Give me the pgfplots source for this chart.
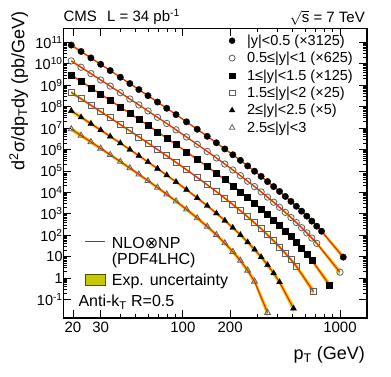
\documentclass[border=0pt]{standalone}
\usepackage{pgfplots}
\pgfplotsset{compat=1.18}
\usepackage{pgfplotstable}
\usepgfplotslibrary{fillbetween}
\usepackage{fontspec}
\setmainfont{Liberation Sans}
\newfontfamily\dejavu{DejaVu Sans}

\definecolor{band}{RGB}{214,214,0}
\definecolor{bandleg}{RGB}{200,200,0}
\definecolor{bandedge}{RGB}{80,80,0}
\definecolor{thred}{RGB}{255,25,25}
\definecolor{opengray}{RGB}{95,95,95}

\pgfplotstableread{
x y e
19.5 7.41e10 0.15
22.5 3.74e10 0.13
26 1.87e10 0.12
30 9.40e9 0.10
34.5 4.80e9 0.10
40 2.34e9 0.10
46 1.19e9 0.10
52.5 6.25e8 0.10
60 3.24e8 0.10
69 1.63e8 0.10
79 8.36e7 0.10
90.5 4.24e7 0.10
105.5 1.95e7 0.10
123.5 8.77e6 0.10
143 4.12e6 0.10
163.5 2.05e6 0.10
185 1.06e6 0.10
208 5.68e5 0.10
232.5 3.09e5 0.10
258.5 1.71e5 0.10
286 9.66e4 0.10
315 5.55e4 0.11
346 3.18e4 0.11
378.5 1.86e4 0.12
412.5 1.10e4 0.12
449 6.44e3 0.13
487.5 3.79e3 0.14
527.5 2.24e3 0.15
570 1.32e3 0.16
615 776 0.17
662 455 0.18
711.5 264 0.19
763.5 153 0.20
1050 9.5 0.35
}\sA

\pgfplotstableread{
x y e
19.5 1.35e10 0.15
22.5 6.85e9 0.13
26 3.46e9 0.12
30 1.75e9 0.10
34.5 9.02e8 0.10
40 4.44e8 0.10
46 2.26e8 0.10
52.5 1.20e8 0.10
60 6.25e7 0.10
69 3.16e7 0.10
79 1.63e7 0.10
90.5 8.28e6 0.10
105.5 3.84e6 0.10
123.5 1.73e6 0.10
143 8.11e5 0.10
163.5 4.03e5 0.10
185 2.09e5 0.10
208 1.11e5 0.10
232.5 6.01e4 0.11
258.5 3.31e4 0.11
286 1.85e4 0.12
315 1.05e4 0.12
346 6.00e3 0.13
378.5 3.46e3 0.13
412.5 2.01e3 0.14
449 1.16e3 0.15
487.5 671 0.16
527.5 390 0.17
570 225 0.18
615 129 0.19
662 73.8 0.20
711.5 41.8 0.21
1000 1.89 0.40
}\sB

\pgfplotstableread{
x y e
19.5 2.95e9 0.18
22.5 1.50e9 0.15
26 7.52e8 0.13
30 3.80e8 0.12
34.5 1.95e8 0.11
40 9.53e7 0.11
46 4.84e7 0.11
52.5 2.55e7 0.11
60 1.32e7 0.11
69 6.64e6 0.11
79 3.38e6 0.11
90.5 1.70e6 0.11
105.5 7.78e5 0.11
123.5 3.44e5 0.11
143 1.58e5 0.11
163.5 7.73e4 0.11
185 3.92e4 0.12
208 2.03e4 0.12
232.5 1.07e4 0.12
258.5 5.73e3 0.13
286 3.11e3 0.13
315 1.70e3 0.14
346 933 0.15
378.5 515 0.16
412.5 285 0.17
449 157 0.18
487.5 85.7 0.19
527.5 46.6 0.20
570 24.9 0.22
615 13.1 0.24
662 6.81 0.26
858 0.475 0.45
}\sC

\pgfplotstableread{
x y e
19.5 4.57e8 0.22
22.5 2.31e8 0.18
26 1.16e8 0.16
30 5.85e7 0.14
34.5 2.99e7 0.13
40 1.46e7 0.13
46 7.38e6 0.13
52.5 3.86e6 0.13
60 2.00e6 0.13
69 9.95e5 0.13
79 5.04e5 0.13
90.5 2.52e5 0.13
105.5 1.14e5 0.13
123.5 4.95e4 0.13
143 2.25e4 0.14
163.5 1.08e4 0.14
185 5.35e3 0.15
208 2.70e3 0.15
232.5 1.39e3 0.16
258.5 723 0.17
286 378 0.18
315 200 0.19
346 104 0.20
378.5 54.7 0.22
412.5 28.5 0.24
449 14.5 0.26
487.5 7.23 0.28
527.5 3.54 0.30
680 0.232 0.50
}\sD

\pgfplotstableread{
x y e
19.5 6.31e7 0.25
22.5 3.19e7 0.22
26 1.60e7 0.20
30 8.02e6 0.18
34.5 4.07e6 0.17
40 1.97e6 0.16
46 9.91e5 0.16
52.5 5.12e5 0.16
60 2.61e5 0.16
69 1.28e5 0.16
79 6.31e4 0.16
90.5 3.07e4 0.16
105.5 1.33e4 0.17
123.5 5.51e3 0.17
143 2.36e3 0.18
163.5 1.05e3 0.19
185 482 0.20
208 223 0.22
232.5 103 0.24
258.5 47.2 0.26
286 21.5 0.28
315 9.57 0.30
346 4.08 0.33
378.5 1.68 0.36
412.5 0.652 0.40
506 0.0387 0.60
}\sE

\pgfplotstableread{
x y e
19.5 8.91e6 0.28
22.5 4.50e6 0.25
26 2.24e6 0.23
30 1.12e6 0.21
34.5 5.65e5 0.20
40 2.72e5 0.20
46 1.35e5 0.20
52.5 6.92e4 0.20
60 3.48e4 0.20
69 1.68e4 0.20
79 8.11e3 0.20
90.5 3.85e3 0.21
105.5 1.61e3 0.22
123.5 632 0.23
143 253 0.24
163.5 104 0.26
185 42.8 0.28
208 17.1 0.30
232.5 6.52 0.33
258.5 2.28 0.37
286 0.700 0.42
346 0.0243 0.70
}\sF

\begin{document}
\begin{tikzpicture}
\begin{axis}[
  scale only axis, width=303.7pt, height=289.7pt,
  xmode=log, ymode=log,
  xmin=17.35, xmax=1486, ymin=1.375e-2, ymax=4.5e11,
  xtick={20,30,100,200,1000}, xticklabels={20,30,100,200,1000},
  minor xtick={40,50,60,70,80,90,300,400,500,600,700,800,900},
  ytickten={-1,0,...,11},
  yticklabel={\pgfmathtruncatemacro\ex{round(\tick/2.302585093)}\ifnum\ex=0 1\else\ifnum\ex=1 10\else 10\textsuperscript{\ex}\fi\fi},
  tick align=inside,
  major tick length=8pt, minor tick length=4pt,
  axis line style={line width=1.1pt},
  every tick/.style={black, line width=0.8pt},
  xticklabel style={font=\fontsize{15}{15}\selectfont},
  yticklabel style={font=\fontsize{14.5}{14.5}\selectfont, inner xsep=0.5pt},
  /pgf/number format/assume math mode=true,
  legend style={draw=none, fill=none, at={(0.5407,0.9803)}, anchor=north west,
    font=\fontsize{14.5}{17}\selectfont, inner sep=0pt, row sep=4.4pt,
    nodes={inner sep=0.5pt}},
  legend cell align=left,
  legend image code/.code={\path (0pt,-4pt) (18pt,4pt); \draw[#1] plot coordinates {(4pt,0pt)};},
]
% bands
\addplot[draw=none, name path=u1, forget plot] table[x=x, y expr=\thisrow{y}*(1+\thisrow{e})]{\sA};
\addplot[draw=none, name path=l1, forget plot] table[x=x, y expr=\thisrow{y}/(1+\thisrow{e})]{\sA};
\addplot[band, draw=none, forget plot] fill between[of=u1 and l1];
\addplot[draw=none, name path=u2, forget plot] table[x=x, y expr=\thisrow{y}*(1+\thisrow{e})]{\sB};
\addplot[draw=none, name path=l2, forget plot] table[x=x, y expr=\thisrow{y}/(1+\thisrow{e})]{\sB};
\addplot[band, draw=none, forget plot] fill between[of=u2 and l2];
\addplot[draw=none, name path=u3, forget plot] table[x=x, y expr=\thisrow{y}*(1+\thisrow{e})]{\sC};
\addplot[draw=none, name path=l3, forget plot] table[x=x, y expr=\thisrow{y}/(1+\thisrow{e})]{\sC};
\addplot[band, draw=none, forget plot] fill between[of=u3 and l3];
\addplot[draw=none, name path=u4, forget plot] table[x=x, y expr=\thisrow{y}*(1+\thisrow{e})]{\sD};
\addplot[draw=none, name path=l4, forget plot] table[x=x, y expr=\thisrow{y}/(1+\thisrow{e})]{\sD};
\addplot[band, draw=none, forget plot] fill between[of=u4 and l4];
\addplot[draw=none, name path=u5, forget plot] table[x=x, y expr=\thisrow{y}*(1+\thisrow{e})]{\sE};
\addplot[draw=none, name path=l5, forget plot] table[x=x, y expr=\thisrow{y}/(1+\thisrow{e})]{\sE};
\addplot[band, draw=none, forget plot] fill between[of=u5 and l5];
\addplot[draw=none, name path=u6, forget plot] table[x=x, y expr=\thisrow{y}*(1+\thisrow{e})]{\sF};
\addplot[draw=none, name path=l6, forget plot] table[x=x, y expr=\thisrow{y}/(1+\thisrow{e})]{\sF};
\addplot[band, draw=none, forget plot] fill between[of=u6 and l6];
% theory lines
\addplot[thred, line width=1.1pt, forget plot] table[x=x, y=y]{\sA};
\addplot[thred, line width=1.1pt, forget plot] table[x=x, y=y]{\sB};
\addplot[thred, line width=1.1pt, forget plot] table[x=x, y=y]{\sC};
\addplot[thred, line width=1.1pt, forget plot] table[x=x, y=y]{\sD};
\addplot[thred, line width=1.1pt, forget plot] table[x=x, y=y]{\sE};
\addplot[thred, line width=1.1pt, forget plot] table[x=x, y=y]{\sF};
% data markers
\addplot[only marks, mark=*, mark size=3.2pt, black, forget plot] table[x=x, y=y]{\sA};
\addplot[only marks, mark=o, mark size=3.2pt, opengray, line width=0.8pt, forget plot] table[x=x, y=y]{\sB};
\addplot[only marks, mark=square*, mark size=3pt, black, forget plot] table[x=x, y=y]{\sC};
\addplot[only marks, mark=square, mark size=3pt, opengray, line width=0.8pt, forget plot] table[x=x, y=y]{\sD};
\addplot[only marks, mark=triangle*, mark size=3.4pt, black, forget plot] table[x=x, y=y]{\sE};
\addplot[only marks, mark=triangle, mark size=3.4pt, opengray, line width=0.8pt, forget plot] table[x=x, y=y]{\sF};
% lower-left legend sample line
\draw[red, line width=1.4pt] (axis description cs:0.0715,0.2634) -- (axis description cs:0.1373,0.2634);
% legend
\addlegendimage{only marks, mark=*, mark size=3pt, black}
\addlegendentry{|y|<0.5 (×3125)}
\addlegendimage{only marks, mark=o, mark size=3pt, opengray, line width=0.8pt}
\addlegendentry{0.5≤|y|<1 (×625)}
\addlegendimage{only marks, mark=square*, mark size=2.8pt, black}
\addlegendentry{1≤|y|<1.5 (×125)}
\addlegendimage{only marks, mark=square, mark size=2.8pt, opengray, line width=0.8pt}
\addlegendentry{1.5≤|y|<2 (×25)}
\addlegendimage{only marks, mark=triangle*, mark size=3.2pt, black}
\addlegendentry{2≤|y|<2.5 (×5)}
\addlegendimage{only marks, mark=triangle, mark size=3.2pt, opengray, line width=0.8pt}
\addlegendentry{2.5≤|y|<3}
\end{axis}
% titles
\node[anchor=base west, font=\fontsize{15}{15}\selectfont, inner sep=0pt] at ([yshift=6.6pt]current axis.north west) {CMS};
\node[anchor=base west, font=\fontsize{15}{15}\selectfont, inner sep=0pt] at ([shift={(43.7pt,6.6pt)}]current axis.north west) {L = 34 pb\textsuperscript{-1}};
\node[anchor=base east, font=\fontsize{15}{15}\selectfont, inner sep=0pt] at ([shift={(-2pt,5.6pt)}]current axis.north east) {$\sqrt{\mbox{s}}$ = 7 TeV};
% axis labels
\node[rotate=90, anchor=base east, font=\fontsize{18}{18}\selectfont, inner sep=0pt] at ([shift={(-39pt,17pt)}]current axis.north west) {d\textsuperscript{2}σ/dp\textsubscript{T}dy (pb/GeV)};
\node[anchor=base east, font=\fontsize{18}{18}\selectfont, inner sep=0pt] at ([shift={(-2pt,-42pt)}]current axis.south east) {p\textsubscript{T} (GeV)};
% lower-left legend texts
\node[anchor=base west, font=\fontsize{16}{16}\selectfont, inner sep=0pt] at ([shift={(48.4pt,-220pt)}]current axis.north west) {NLO{\dejavu ⊗}NP};
\node[anchor=base west, font=\fontsize{16}{16}\selectfont, inner sep=0pt] at ([shift={(48.4pt,-236.7pt)}]current axis.north west) {(PDF4LHC)};
\draw[fill=bandleg, draw=bandedge, line width=0.8pt] ([shift={(21.7pt,-245.7pt)}]current axis.north west) rectangle ([shift={(41.7pt,-257pt)}]current axis.north west);
\node[anchor=base west, font=\fontsize{16}{16}\selectfont, inner sep=0pt] at ([shift={(48.4pt,-257.7pt)}]current axis.north west) {Exp. uncertainty};
\node[anchor=base west, font=\fontsize{16}{16}\selectfont, inner sep=0pt] at ([shift={(15pt,-278.4pt)}]current axis.north west) {Anti-k\textsubscript{T} R=0.5};
% bounding box
\pgfresetboundingbox
\path ([shift={(-63.3pt,-59pt)}]current axis.south west) rectangle ([shift={(24pt,28.3pt)}]current axis.north east);
\end{tikzpicture}
\end{document}
